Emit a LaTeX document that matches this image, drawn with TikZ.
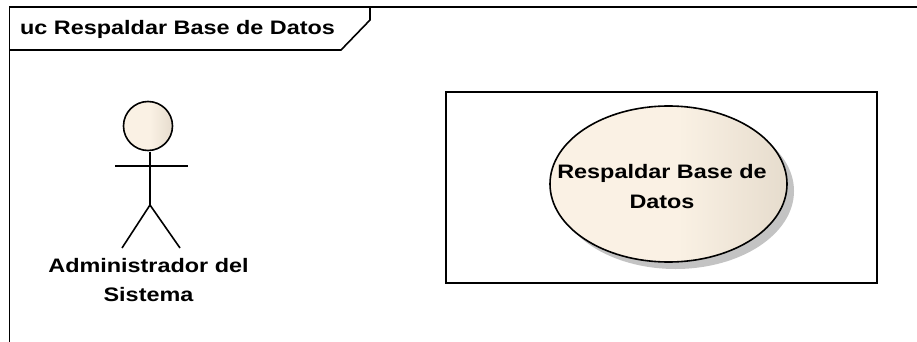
\documentclass[tikz,border=0pt]{standalone}
\usepackage{fontspec}
\setmainfont[FakeStretch=1.2]{Liberation Sans}
\usetikzlibrary{shapes,positioning}
\definecolor{ucfill}{RGB}{250,241,228}
\definecolor{ucdark}{RGB}{230,220,205}
\definecolor{ucshadow}{RGB}{195,195,195}
\pgfdeclarehorizontalshading{ucshade}{100bp}{color(0bp)=(ucfill); color(52bp)=(ucfill); color(75bp)=(ucdark); color(100bp)=(ucdark)}
\tikzset{
  line/.style={black, line width=1.6pt},
  lbl/.style={font=\fontsize{19.5}{29.5}\selectfont\bfseries, align=center, inner sep=0pt},
  usecase/.style={ellipse, minimum width=237pt, minimum height=156pt, inner sep=0pt}
}

\begin{document}
\begin{tikzpicture}[x=1pt,y=-1pt]
    \useasboundingbox (0,0) rectangle (917,342);
    % frame
    \coordinate (fl) at (9.5,342);
    \coordinate (ft) at (9.5,7);
    \coordinate (fr) at (917,7);
    \coordinate (tabc) at (370,7);
    \coordinate (tabd) at (370,20);
    \coordinate (tabs) at (341,50);
    \coordinate (tabl) at (9.5,50);
    \draw [line] (fl) -- (ft) -- (fr);
    \draw [line] (tabc) -- (tabd) -- (tabs) -- (tabl);
    \node [lbl, anchor=west] (title) at (20,29.5) {uc Respaldar Base de Datos};
    % actor
    \node [circle, draw, line, shade, shading=ucshade, minimum size=49pt, inner sep=0pt] (head) at (148,126) {};
    \coordinate (neck) at (150,152);
    \coordinate (hip) at (150,205);
    \coordinate (arml) at (115,166);
    \coordinate (armr) at (188,166);
    \coordinate (legl) at (122,248);
    \coordinate (legr) at (180,248);
    \draw [line] (neck) -- (hip);
    \draw [line] (arml) -- (armr);
    \draw [line] (legl) -- (hip) -- (legr);
    \node [lbl] (actor) at (148.5,280) {Administrador del\\Sistema};
    % use case
    \node [draw, line, minimum width=431pt, minimum height=191pt] (box) at (661.5,187.5) {};
    \node [usecase, fill=ucshadow] (ucs) at (675.5,191) {};
    \node [usecase, draw, line, shade, shading=ucshade] (uc) at (668.5,184) {};
    \node [lbl] (uctext) at (662,186.5) {Respaldar Base de\\Datos};
\end{tikzpicture}
\end{document}
